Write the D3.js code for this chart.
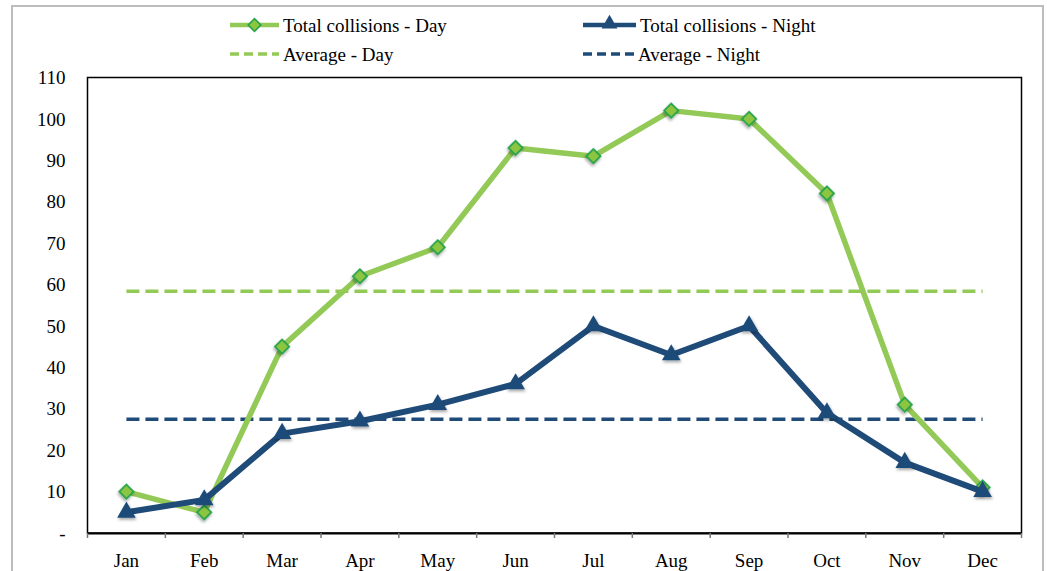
<!DOCTYPE html>
<html><head><meta charset="utf-8">
<script src="https://cdn.jsdelivr.net/npm/d3@7"></script>
<style>
html,body{margin:0;padding:0;background:#fff;overflow:hidden;}
svg{display:block;font-family:"Liberation Serif","DejaVu Serif",serif;}
</style></head>
<body>
<svg id="chart" width="1047" height="571"></svg>
<script>
const months = ["Jan","Feb","Mar","Apr","May","Jun","Jul","Aug","Sep","Oct","Nov","Dec"];
const dayTotals = [10,5,45,62,69,93,91,102,100,82,31,11];
const nightTotals = [5,8,24,27,31,36,50,43,50,29,17,10];
const avgDay = 58.4;
const avgNight = 27.5;
const yTicks = [0,10,20,30,40,50,60,70,80,90,100,110];
const seriesNames = ["Total collisions - Day","Total collisions - Night","Average - Day","Average - Night"];

const C_DAY = "#93c956", C_NIGHT = "#1f4b79", C_DIAMOND_FILL = "#8cc63f", C_DIAMOND_STROKE = "#25a24a";
const FS = 19;

const svg = d3.select("#chart");
const defs = svg.append("defs");
const f = defs.append("filter").attr("id","sh").attr("x","-50%").attr("y","-50%").attr("width","200%").attr("height","200%");
f.append("feDropShadow").attr("dx",1).attr("dy",2).attr("stdDeviation",1.5).attr("flood-color","#000").attr("flood-opacity",0.35);

// outer frame
svg.append("path").attr("d","M12,571 V6 H1043 V571").attr("fill","none").attr("stroke","#bdbdbd").attr("stroke-width",2);

const L = 87.5, R = 1021.5, T = 77.5, B = 533;
const x = d3.scaleBand().domain(months).range([L,R]);
const xc = m => x(m) + x.bandwidth()/2;
const y = d3.scaleLinear().domain([0,110]).range([B,T]);

// plot box
svg.append("rect").attr("x",L).attr("y",T).attr("width",R-L).attr("height",B-T).attr("fill","none").attr("stroke","#000").attr("stroke-width",1.5);

// y axis labels
const yAxis = d3.axisLeft(y).tickValues(yTicks).tickSize(0).tickPadding(22).tickFormat(d => d===0 ? "-" : d);
const gy = svg.append("g").attr("transform",`translate(${L},0)`).call(yAxis);
gy.select(".domain").remove();
gy.selectAll("text").attr("font-size",FS).attr("fill","#000").attr("font-family","Liberation Serif, serif");

// x axis
const xAxis = d3.axisBottom(x).tickSizeOuter(0).tickSize(0).tickPadding(21);
const gx = svg.append("g").attr("transform",`translate(0,${B})`).call(xAxis);
gx.select(".domain").attr("stroke","#000").attr("stroke-width",2);
gx.selectAll("text").attr("font-size",FS).attr("fill","#000").attr("font-family","Liberation Serif, serif");
// tick marks at band boundaries
const bounds = months.map(m => x(m)).concat([R]);
gx.selectAll(".bt").data(bounds).enter().append("line").attr("class","bt")
  .attr("x1",d=>d).attr("x2",d=>d).attr("y1",0).attr("y2",5).attr("stroke","#777").attr("stroke-width",1.5);

const line = d3.line().x((d,i)=>xc(months[i])).y(d=>y(d));

// average lines
const first = xc(months[0]), last = xc(months[months.length-1]);
svg.append("line").attr("x1",first).attr("x2",last).attr("y1",y(avgDay)).attr("y2",y(avgDay))
  .attr("stroke",C_DAY).attr("stroke-width",3.5).attr("stroke-dasharray","13,6");
svg.append("line").attr("x1",first).attr("x2",last).attr("y1",y(avgNight)).attr("y2",y(avgNight))
  .attr("stroke",C_NIGHT).attr("stroke-width",3.5).attr("stroke-dasharray","13,6");

// day series
svg.append("path").datum(dayTotals).attr("d",line).attr("fill","none").attr("stroke",C_DAY).attr("stroke-width",5.5).attr("stroke-linejoin","round");
function drawDiamond(g,cx,cy){
  g.append("rect").attr("x",-5).attr("y",-5).attr("width",10).attr("height",10)
   .attr("transform",`translate(${cx},${cy}) rotate(45)`)
   .attr("fill",C_DIAMOND_FILL).attr("stroke",C_DIAMOND_STROKE).attr("stroke-width",1.8).attr("filter","url(#sh)");
}
const gd = svg.append("g");
dayTotals.forEach((v,i)=>drawDiamond(gd, xc(months[i]), y(v)));

// night series
svg.append("path").datum(nightTotals).attr("d",line).attr("fill","none").attr("stroke",C_NIGHT).attr("stroke-width",6).attr("stroke-linejoin","round");
const tri = d3.symbol().type(d3.symbolTriangle).size(150);
function drawTri(g,cx,cy){
  g.append("path").attr("d",tri()).attr("transform",`translate(${cx},${cy})`).attr("fill",C_NIGHT).attr("filter","url(#sh)");
}
const gn = svg.append("g");
nightTotals.forEach((v,i)=>drawTri(gn, xc(months[i]), y(v)));

// legend
const lg = svg.append("g").attr("font-size",FS).attr("fill","#000");
const items = [
  {name:seriesNames[0], x0:230, x1:279, y:25, color:C_DAY, w:4.5, dash:null, mk:"d"},
  {name:seriesNames[1], x0:583, x1:636, y:25, color:C_NIGHT, w:4.5, dash:null, mk:"t"},
  {name:seriesNames[2], x0:230, x1:279, y:54, color:C_DAY, w:3.5, dash:"9,5", mk:null},
  {name:seriesNames[3], x0:583, x1:634, y:54, color:C_NIGHT, w:3.5, dash:"9,5", mk:null}
];
items.forEach(it=>{
  const ln = lg.append("line").attr("x1",it.x0).attr("x2",it.x1).attr("y1",it.y).attr("y2",it.y)
    .attr("stroke",it.color).attr("stroke-width",it.w);
  if(it.dash) ln.attr("stroke-dasharray",it.dash);
  const cx = (it.x0+it.x1)/2;
  if(it.mk==="d"){
    lg.append("rect").attr("x",-4.5).attr("y",-4.5).attr("width",9).attr("height",9)
      .attr("transform",`translate(${cx},${it.y}) rotate(45)`)
      .attr("fill",C_DIAMOND_FILL).attr("stroke",C_DIAMOND_STROKE).attr("stroke-width",1.6);
  } else if(it.mk==="t"){
    lg.append("path").attr("d",d3.symbol().type(d3.symbolTriangle).size(110)()).attr("transform",`translate(${cx},${it.y-1})`).attr("fill",it.color);
  }
  lg.append("text").attr("x",it.x1+4).attr("y",it.y).attr("dy","0.35em").text(it.name);
});
</script>
</body></html>
